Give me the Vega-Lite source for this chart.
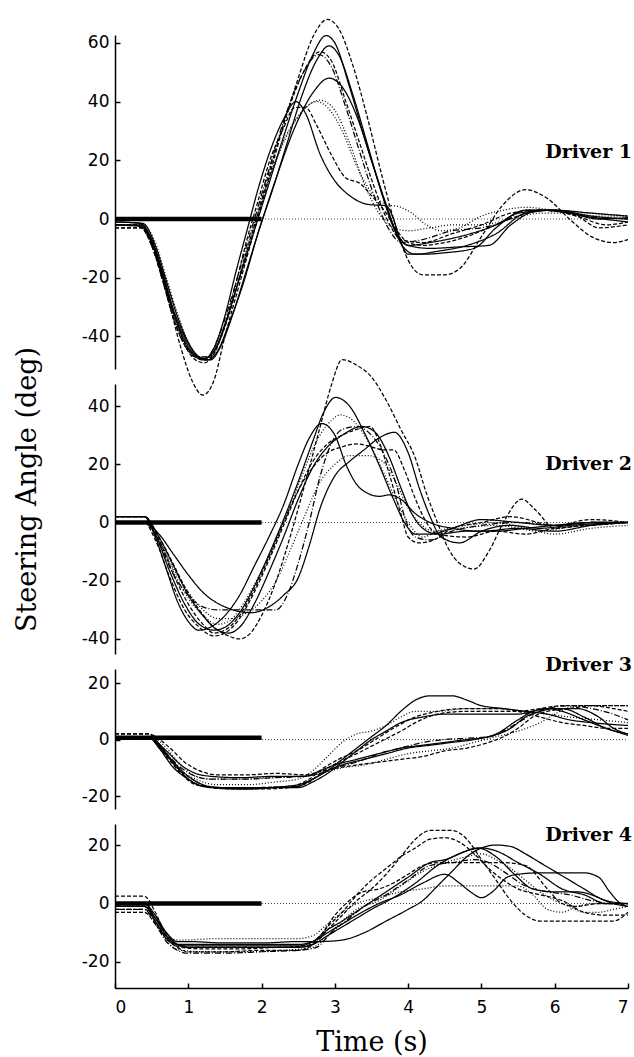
{
"$schema": "https://vega.github.io/schema/vega-lite/v6.json",
"background": "white",
"padding": {"left": 12, "top": 16, "right": 2, "bottom": 5},
"spacing": 15,
"bounds": "flush",
"config": {
  "view": {"stroke": null},
  "axis": {"domainColor": "black", "tickColor": "black", "labelColor": "black", "titleColor": "black", "labelFont": "DejaVu Sans", "labelFontSize": 17, "grid": false, "domainWidth": 1.5, "tickWidth": 1.5, "tickSize": -5}
},
"datasets": {
"cues": [{"d":1,"t0":0,"t1":2,"v":0},{"d":2,"t0":0,"t1":2,"v":0},{"d":3,"t0":0,"t1":2,"v":0.6},{"d":4,"t0":0,"t1":2,"v":0}],
"trials": [
{"d":1,"k":"a","t":0,"v":-2},{"d":1,"k":"a","t":0.35,"v":-2.5},{"d":1,"k":"a","t":0.5,"v":-8},{"d":1,"k":"a","t":0.65,"v":-20},{"d":1,"k":"a","t":0.8,"v":-32},{"d":1,"k":"a","t":0.95,"v":-41},{"d":1,"k":"a","t":1.1,"v":-46.5},{"d":1,"k":"a","t":1.22,"v":-47.5},{"d":1,"k":"a","t":1.35,"v":-45},{"d":1,"k":"a","t":1.5,"v":-36},{"d":1,"k":"a","t":1.7,"v":-20},{"d":1,"k":"a","t":1.9,"v":-4},{"d":1,"k":"a","t":2.1,"v":12},{"d":1,"k":"a","t":2.3,"v":28},{"d":1,"k":"a","t":2.5,"v":43},{"d":1,"k":"a","t":2.7,"v":56},{"d":1,"k":"a","t":2.88,"v":62.5},{"d":1,"k":"a","t":3.0,"v":60},{"d":1,"k":"a","t":3.2,"v":45},{"d":1,"k":"a","t":3.4,"v":28},{"d":1,"k":"a","t":3.6,"v":12},{"d":1,"k":"a","t":3.8,"v":-3},{"d":1,"k":"a","t":3.95,"v":-10},{"d":1,"k":"a","t":4.1,"v":-12},{"d":1,"k":"a","t":4.4,"v":-11},{"d":1,"k":"a","t":4.8,"v":-9},{"d":1,"k":"a","t":5.2,"v":-5},{"d":1,"k":"a","t":5.6,"v":2},{"d":1,"k":"a","t":6.0,"v":3},{"d":1,"k":"a","t":6.5,"v":1},{"d":1,"k":"a","t":7,"v":0},
{"d":1,"k":"b","t":0,"v":-2},{"d":1,"k":"b","t":0.35,"v":-2},{"d":1,"k":"b","t":0.5,"v":-7},{"d":1,"k":"b","t":0.65,"v":-18},{"d":1,"k":"b","t":0.8,"v":-31},{"d":1,"k":"b","t":0.95,"v":-40},{"d":1,"k":"b","t":1.1,"v":-46},{"d":1,"k":"b","t":1.25,"v":-48},{"d":1,"k":"b","t":1.4,"v":-45},{"d":1,"k":"b","t":1.55,"v":-36},{"d":1,"k":"b","t":1.75,"v":-22},{"d":1,"k":"b","t":1.95,"v":-5},{"d":1,"k":"b","t":2.15,"v":10},{"d":1,"k":"b","t":2.35,"v":26},{"d":1,"k":"b","t":2.55,"v":42},{"d":1,"k":"b","t":2.75,"v":54},{"d":1,"k":"b","t":2.92,"v":59},{"d":1,"k":"b","t":3.05,"v":56},{"d":1,"k":"b","t":3.25,"v":42},{"d":1,"k":"b","t":3.45,"v":25},{"d":1,"k":"b","t":3.65,"v":8},{"d":1,"k":"b","t":3.85,"v":-5},{"d":1,"k":"b","t":4.0,"v":-9},{"d":1,"k":"b","t":4.3,"v":-10},{"d":1,"k":"b","t":4.7,"v":-9.5},{"d":1,"k":"b","t":5.1,"v":-9},{"d":1,"k":"b","t":5.4,"v":-2},{"d":1,"k":"b","t":5.8,"v":3},{"d":1,"k":"b","t":6.2,"v":2},{"d":1,"k":"b","t":6.6,"v":0},{"d":1,"k":"b","t":7,"v":0.5},
{"d":1,"k":"c","t":0,"v":-3},{"d":1,"k":"c","t":0.35,"v":-3},{"d":1,"k":"c","t":0.5,"v":-9},{"d":1,"k":"c","t":0.7,"v":-25},{"d":1,"k":"c","t":0.9,"v":-44},{"d":1,"k":"c","t":1.05,"v":-55},{"d":1,"k":"c","t":1.2,"v":-60},{"d":1,"k":"c","t":1.35,"v":-55},{"d":1,"k":"c","t":1.5,"v":-40},{"d":1,"k":"c","t":1.7,"v":-22},{"d":1,"k":"c","t":1.9,"v":-4},{"d":1,"k":"c","t":2.1,"v":14},{"d":1,"k":"c","t":2.3,"v":32},{"d":1,"k":"c","t":2.5,"v":48},{"d":1,"k":"c","t":2.7,"v":62},{"d":1,"k":"c","t":2.9,"v":68},{"d":1,"k":"c","t":3.05,"v":65},{"d":1,"k":"c","t":3.25,"v":52},{"d":1,"k":"c","t":3.45,"v":34},{"d":1,"k":"c","t":3.65,"v":14},{"d":1,"k":"c","t":3.85,"v":-4},{"d":1,"k":"c","t":4.0,"v":-14},{"d":1,"k":"c","t":4.2,"v":-19},{"d":1,"k":"c","t":4.5,"v":-19},{"d":1,"k":"c","t":4.7,"v":-17},{"d":1,"k":"c","t":5.0,"v":-6},{"d":1,"k":"c","t":5.3,"v":5},{"d":1,"k":"c","t":5.6,"v":10},{"d":1,"k":"c","t":5.9,"v":7},{"d":1,"k":"c","t":6.2,"v":0},{"d":1,"k":"c","t":6.5,"v":-6},{"d":1,"k":"c","t":6.8,"v":-8},{"d":1,"k":"c","t":7,"v":-7},
{"d":1,"k":"d","t":0,"v":-1},{"d":1,"k":"d","t":0.38,"v":-1.5},{"d":1,"k":"d","t":0.55,"v":-9},{"d":1,"k":"d","t":0.7,"v":-21},{"d":1,"k":"d","t":0.85,"v":-33},{"d":1,"k":"d","t":1.0,"v":-42},{"d":1,"k":"d","t":1.15,"v":-47},{"d":1,"k":"d","t":1.3,"v":-48},{"d":1,"k":"d","t":1.45,"v":-43},{"d":1,"k":"d","t":1.6,"v":-33},{"d":1,"k":"d","t":1.8,"v":-17},{"d":1,"k":"d","t":2.0,"v":-1},{"d":1,"k":"d","t":2.2,"v":14},{"d":1,"k":"d","t":2.45,"v":31},{"d":1,"k":"d","t":2.7,"v":43},{"d":1,"k":"d","t":2.92,"v":48},{"d":1,"k":"d","t":3.1,"v":45},{"d":1,"k":"d","t":3.3,"v":35},{"d":1,"k":"d","t":3.5,"v":20},{"d":1,"k":"d","t":3.7,"v":5},{"d":1,"k":"d","t":3.85,"v":-5},{"d":1,"k":"d","t":4.0,"v":-9},{"d":1,"k":"d","t":4.3,"v":-8},{"d":1,"k":"d","t":4.7,"v":-6},{"d":1,"k":"d","t":5.2,"v":-2},{"d":1,"k":"d","t":5.6,"v":3},{"d":1,"k":"d","t":6.0,"v":3},{"d":1,"k":"d","t":6.4,"v":1},{"d":1,"k":"d","t":7,"v":-1},
{"d":1,"k":"e","t":0,"v":-2},{"d":1,"k":"e","t":0.35,"v":-2},{"d":1,"k":"e","t":0.5,"v":-8},{"d":1,"k":"e","t":0.65,"v":-19},{"d":1,"k":"e","t":0.8,"v":-32},{"d":1,"k":"e","t":0.95,"v":-42},{"d":1,"k":"e","t":1.1,"v":-47},{"d":1,"k":"e","t":1.25,"v":-48},{"d":1,"k":"e","t":1.4,"v":-43},{"d":1,"k":"e","t":1.55,"v":-33},{"d":1,"k":"e","t":1.75,"v":-15},{"d":1,"k":"e","t":1.95,"v":2},{"d":1,"k":"e","t":2.15,"v":20},{"d":1,"k":"e","t":2.35,"v":36},{"d":1,"k":"e","t":2.55,"v":49},{"d":1,"k":"e","t":2.8,"v":57},{"d":1,"k":"e","t":2.95,"v":54},{"d":1,"k":"e","t":3.15,"v":40},{"d":1,"k":"e","t":3.35,"v":25},{"d":1,"k":"e","t":3.55,"v":10},{"d":1,"k":"e","t":3.75,"v":-2},{"d":1,"k":"e","t":3.9,"v":-7},{"d":1,"k":"e","t":4.2,"v":-8},{"d":1,"k":"e","t":4.6,"v":-5},{"d":1,"k":"e","t":5.0,"v":-2},{"d":1,"k":"e","t":5.4,"v":2},{"d":1,"k":"e","t":5.8,"v":3},{"d":1,"k":"e","t":6.3,"v":1},{"d":1,"k":"e","t":6.6,"v":-3},{"d":1,"k":"e","t":7,"v":-2},
{"d":1,"k":"f","t":0,"v":-2},{"d":1,"k":"f","t":0.35,"v":-2},{"d":1,"k":"f","t":0.5,"v":-8},{"d":1,"k":"f","t":0.65,"v":-20},{"d":1,"k":"f","t":0.8,"v":-33},{"d":1,"k":"f","t":0.95,"v":-42},{"d":1,"k":"f","t":1.1,"v":-47},{"d":1,"k":"f","t":1.25,"v":-48},{"d":1,"k":"f","t":1.4,"v":-42},{"d":1,"k":"f","t":1.6,"v":-28},{"d":1,"k":"f","t":1.8,"v":-12},{"d":1,"k":"f","t":2.0,"v":5},{"d":1,"k":"f","t":2.2,"v":20},{"d":1,"k":"f","t":2.45,"v":33},{"d":1,"k":"f","t":2.65,"v":39},{"d":1,"k":"f","t":2.8,"v":40.5},{"d":1,"k":"f","t":3.0,"v":37},{"d":1,"k":"f","t":3.2,"v":26},{"d":1,"k":"f","t":3.4,"v":12},{"d":1,"k":"f","t":3.6,"v":2},{"d":1,"k":"f","t":3.8,"v":-3},{"d":1,"k":"f","t":4.0,"v":-4},{"d":1,"k":"f","t":4.3,"v":-3},{"d":1,"k":"f","t":4.6,"v":-2},{"d":1,"k":"f","t":5.0,"v":-2},{"d":1,"k":"f","t":5.4,"v":0},{"d":1,"k":"f","t":5.8,"v":2},{"d":1,"k":"f","t":6.2,"v":2},{"d":1,"k":"f","t":6.6,"v":1},{"d":1,"k":"f","t":7,"v":1},
{"d":1,"k":"g","t":0,"v":-1},{"d":1,"k":"g","t":0.35,"v":-1.5},{"d":1,"k":"g","t":0.5,"v":-7},{"d":1,"k":"g","t":0.65,"v":-19},{"d":1,"k":"g","t":0.8,"v":-32},{"d":1,"k":"g","t":0.95,"v":-42},{"d":1,"k":"g","t":1.1,"v":-47},{"d":1,"k":"g","t":1.2,"v":-48},{"d":1,"k":"g","t":1.35,"v":-44},{"d":1,"k":"g","t":1.5,"v":-33},{"d":1,"k":"g","t":1.65,"v":-18},{"d":1,"k":"g","t":1.8,"v":-4},{"d":1,"k":"g","t":1.95,"v":10},{"d":1,"k":"g","t":2.1,"v":22},{"d":1,"k":"g","t":2.3,"v":34},{"d":1,"k":"g","t":2.47,"v":40},{"d":1,"k":"g","t":2.6,"v":36},{"d":1,"k":"g","t":2.8,"v":22},{"d":1,"k":"g","t":3.0,"v":13},{"d":1,"k":"g","t":3.2,"v":8},{"d":1,"k":"g","t":3.45,"v":5},{"d":1,"k":"g","t":3.7,"v":4.5},{"d":1,"k":"g","t":3.8,"v":0},{"d":1,"k":"g","t":3.9,"v":-8},{"d":1,"k":"g","t":4.0,"v":-12},{"d":1,"k":"g","t":4.2,"v":-12},{"d":1,"k":"g","t":4.5,"v":-11.5},{"d":1,"k":"g","t":4.9,"v":-10},{"d":1,"k":"g","t":5.2,"v":-3},{"d":1,"k":"g","t":5.5,"v":2},{"d":1,"k":"g","t":6.0,"v":3},{"d":1,"k":"g","t":6.5,"v":2},{"d":1,"k":"g","t":7,"v":1},
{"d":1,"k":"h","t":0,"v":-3},{"d":1,"k":"h","t":0.35,"v":-3},{"d":1,"k":"h","t":0.5,"v":-9},{"d":1,"k":"h","t":0.65,"v":-21},{"d":1,"k":"h","t":0.8,"v":-34},{"d":1,"k":"h","t":0.95,"v":-43},{"d":1,"k":"h","t":1.1,"v":-48},{"d":1,"k":"h","t":1.22,"v":-49},{"d":1,"k":"h","t":1.35,"v":-46},{"d":1,"k":"h","t":1.5,"v":-36},{"d":1,"k":"h","t":1.65,"v":-22},{"d":1,"k":"h","t":1.8,"v":-7},{"d":1,"k":"h","t":1.95,"v":6},{"d":1,"k":"h","t":2.1,"v":19},{"d":1,"k":"h","t":2.3,"v":31},{"d":1,"k":"h","t":2.45,"v":38},{"d":1,"k":"h","t":2.6,"v":38},{"d":1,"k":"h","t":2.75,"v":32},{"d":1,"k":"h","t":2.95,"v":22},{"d":1,"k":"h","t":3.15,"v":14},{"d":1,"k":"h","t":3.35,"v":12},{"d":1,"k":"h","t":3.5,"v":8},{"d":1,"k":"h","t":3.7,"v":2},{"d":1,"k":"h","t":3.85,"v":-4},{"d":1,"k":"h","t":4.0,"v":-8},{"d":1,"k":"h","t":4.2,"v":-9},{"d":1,"k":"h","t":4.5,"v":-8},{"d":1,"k":"h","t":4.8,"v":-6},{"d":1,"k":"h","t":5.1,"v":-3},{"d":1,"k":"h","t":5.5,"v":1},{"d":1,"k":"h","t":5.9,"v":3},{"d":1,"k":"h","t":6.3,"v":1},{"d":1,"k":"h","t":6.7,"v":-2},{"d":1,"k":"h","t":7,"v":-1},
{"d":1,"k":"i","t":0,"v":-2},{"d":1,"k":"i","t":0.38,"v":-2},{"d":1,"k":"i","t":0.55,"v":-8},{"d":1,"k":"i","t":0.7,"v":-20},{"d":1,"k":"i","t":0.85,"v":-32},{"d":1,"k":"i","t":1.0,"v":-42},{"d":1,"k":"i","t":1.15,"v":-47},{"d":1,"k":"i","t":1.3,"v":-47},{"d":1,"k":"i","t":1.45,"v":-40},{"d":1,"k":"i","t":1.65,"v":-24},{"d":1,"k":"i","t":1.85,"v":-6},{"d":1,"k":"i","t":2.05,"v":10},{"d":1,"k":"i","t":2.25,"v":24},{"d":1,"k":"i","t":2.5,"v":35},{"d":1,"k":"i","t":2.75,"v":40},{"d":1,"k":"i","t":2.9,"v":38},{"d":1,"k":"i","t":3.1,"v":30},{"d":1,"k":"i","t":3.3,"v":18},{"d":1,"k":"i","t":3.5,"v":9},{"d":1,"k":"i","t":3.7,"v":5},{"d":1,"k":"i","t":3.9,"v":4},{"d":1,"k":"i","t":4.05,"v":2},{"d":1,"k":"i","t":4.25,"v":-2},{"d":1,"k":"i","t":4.45,"v":-4},{"d":1,"k":"i","t":4.7,"v":-3},{"d":1,"k":"i","t":5.0,"v":1},{"d":1,"k":"i","t":5.3,"v":3},{"d":1,"k":"i","t":5.6,"v":4},{"d":1,"k":"i","t":6.0,"v":3},{"d":1,"k":"i","t":6.5,"v":2},{"d":1,"k":"i","t":7,"v":1},
{"d":1,"k":"j","t":0,"v":-2},{"d":1,"k":"j","t":0.35,"v":-2.5},{"d":1,"k":"j","t":0.5,"v":-9},{"d":1,"k":"j","t":0.65,"v":-21},{"d":1,"k":"j","t":0.8,"v":-34},{"d":1,"k":"j","t":0.95,"v":-43},{"d":1,"k":"j","t":1.1,"v":-47},{"d":1,"k":"j","t":1.25,"v":-47},{"d":1,"k":"j","t":1.4,"v":-41},{"d":1,"k":"j","t":1.55,"v":-30},{"d":1,"k":"j","t":1.75,"v":-13},{"d":1,"k":"j","t":1.95,"v":4},{"d":1,"k":"j","t":2.15,"v":21},{"d":1,"k":"j","t":2.35,"v":37},{"d":1,"k":"j","t":2.55,"v":49},{"d":1,"k":"j","t":2.78,"v":56},{"d":1,"k":"j","t":2.95,"v":52},{"d":1,"k":"j","t":3.15,"v":38},{"d":1,"k":"j","t":3.35,"v":22},{"d":1,"k":"j","t":3.55,"v":7},{"d":1,"k":"j","t":3.75,"v":-4},{"d":1,"k":"j","t":3.9,"v":-8},{"d":1,"k":"j","t":4.2,"v":-7},{"d":1,"k":"j","t":4.6,"v":-4},{"d":1,"k":"j","t":5.0,"v":-3},{"d":1,"k":"j","t":5.3,"v":-1},{"d":1,"k":"j","t":5.6,"v":3},{"d":1,"k":"j","t":6.0,"v":3},{"d":1,"k":"j","t":6.4,"v":1},{"d":1,"k":"j","t":7,"v":0},
{"d":2,"k":"a","t":0,"v":2},{"d":2,"k":"a","t":0.4,"v":2},{"d":2,"k":"a","t":0.55,"v":-4},{"d":2,"k":"a","t":0.75,"v":-17},{"d":2,"k":"a","t":0.95,"v":-28},{"d":2,"k":"a","t":1.15,"v":-35},{"d":2,"k":"a","t":1.35,"v":-37},{"d":2,"k":"a","t":1.5,"v":-36},{"d":2,"k":"a","t":1.7,"v":-31},{"d":2,"k":"a","t":1.9,"v":-22},{"d":2,"k":"a","t":2.1,"v":-11},{"d":2,"k":"a","t":2.3,"v":1},{"d":2,"k":"a","t":2.5,"v":14},{"d":2,"k":"a","t":2.7,"v":28},{"d":2,"k":"a","t":2.85,"v":38},{"d":2,"k":"a","t":3.01,"v":43},{"d":2,"k":"a","t":3.2,"v":40},{"d":2,"k":"a","t":3.4,"v":31},{"d":2,"k":"a","t":3.6,"v":20},{"d":2,"k":"a","t":3.8,"v":8},{"d":2,"k":"a","t":3.95,"v":0},{"d":2,"k":"a","t":4.1,"v":-4},{"d":2,"k":"a","t":4.3,"v":-4},{"d":2,"k":"a","t":4.6,"v":-2},{"d":2,"k":"a","t":5.0,"v":1},{"d":2,"k":"a","t":5.5,"v":0},{"d":2,"k":"a","t":6.0,"v":-1},{"d":2,"k":"a","t":6.5,"v":0},{"d":2,"k":"a","t":7,"v":0},
{"d":2,"k":"b","t":0,"v":2},{"d":2,"k":"b","t":0.4,"v":2},{"d":2,"k":"b","t":0.55,"v":-5},{"d":2,"k":"b","t":0.7,"v":-16},{"d":2,"k":"b","t":0.85,"v":-27},{"d":2,"k":"b","t":1.0,"v":-34},{"d":2,"k":"b","t":1.14,"v":-37},{"d":2,"k":"b","t":1.3,"v":-36},{"d":2,"k":"b","t":1.5,"v":-32},{"d":2,"k":"b","t":1.7,"v":-25},{"d":2,"k":"b","t":1.9,"v":-15},{"d":2,"k":"b","t":2.1,"v":-5},{"d":2,"k":"b","t":2.3,"v":6},{"d":2,"k":"b","t":2.5,"v":20},{"d":2,"k":"b","t":2.65,"v":29},{"d":2,"k":"b","t":2.82,"v":34},{"d":2,"k":"b","t":3.0,"v":30},{"d":2,"k":"b","t":3.15,"v":20},{"d":2,"k":"b","t":3.3,"v":13},{"d":2,"k":"b","t":3.45,"v":10},{"d":2,"k":"b","t":3.6,"v":9},{"d":2,"k":"b","t":3.75,"v":9.5},{"d":2,"k":"b","t":3.9,"v":8},{"d":2,"k":"b","t":4.1,"v":3},{"d":2,"k":"b","t":4.3,"v":0},{"d":2,"k":"b","t":4.6,"v":-2},{"d":2,"k":"b","t":5.0,"v":-3},{"d":2,"k":"b","t":5.5,"v":-2},{"d":2,"k":"b","t":6.0,"v":-3},{"d":2,"k":"b","t":6.5,"v":-1},{"d":2,"k":"b","t":7,"v":0},
{"d":2,"k":"c","t":0,"v":2},{"d":2,"k":"c","t":0.4,"v":2},{"d":2,"k":"c","t":0.55,"v":-3},{"d":2,"k":"c","t":0.75,"v":-12},{"d":2,"k":"c","t":0.95,"v":-22},{"d":2,"k":"c","t":1.15,"v":-30},{"d":2,"k":"c","t":1.35,"v":-36},{"d":2,"k":"c","t":1.55,"v":-39},{"d":2,"k":"c","t":1.7,"v":-40},{"d":2,"k":"c","t":1.85,"v":-38},{"d":2,"k":"c","t":2.0,"v":-32},{"d":2,"k":"c","t":2.2,"v":-20},{"d":2,"k":"c","t":2.4,"v":-4},{"d":2,"k":"c","t":2.6,"v":14},{"d":2,"k":"c","t":2.8,"v":33},{"d":2,"k":"c","t":2.95,"v":47},{"d":2,"k":"c","t":3.1,"v":56},{"d":2,"k":"c","t":3.3,"v":54},{"d":2,"k":"c","t":3.5,"v":50},{"d":2,"k":"c","t":3.7,"v":42},{"d":2,"k":"c","t":3.9,"v":32},{"d":2,"k":"c","t":4.1,"v":22},{"d":2,"k":"c","t":4.25,"v":10},{"d":2,"k":"c","t":4.4,"v":0},{"d":2,"k":"c","t":4.55,"v":-9},{"d":2,"k":"c","t":4.7,"v":-14},{"d":2,"k":"c","t":4.9,"v":-16},{"d":2,"k":"c","t":5.1,"v":-10},{"d":2,"k":"c","t":5.3,"v":0},{"d":2,"k":"c","t":5.55,"v":8},{"d":2,"k":"c","t":5.75,"v":4},{"d":2,"k":"c","t":6.0,"v":-2},{"d":2,"k":"c","t":6.4,"v":-1},{"d":2,"k":"c","t":7,"v":0},
{"d":2,"k":"d","t":0,"v":2},{"d":2,"k":"d","t":0.4,"v":2},{"d":2,"k":"d","t":0.6,"v":-5},{"d":2,"k":"d","t":0.8,"v":-15},{"d":2,"k":"d","t":1.0,"v":-25},{"d":2,"k":"d","t":1.2,"v":-32},{"d":2,"k":"d","t":1.4,"v":-37},{"d":2,"k":"d","t":1.55,"v":-38},{"d":2,"k":"d","t":1.7,"v":-36},{"d":2,"k":"d","t":1.9,"v":-28},{"d":2,"k":"d","t":2.1,"v":-17},{"d":2,"k":"d","t":2.3,"v":-5},{"d":2,"k":"d","t":2.5,"v":8},{"d":2,"k":"d","t":2.7,"v":19},{"d":2,"k":"d","t":2.9,"v":26},{"d":2,"k":"d","t":3.1,"v":30},{"d":2,"k":"d","t":3.37,"v":33},{"d":2,"k":"d","t":3.55,"v":31},{"d":2,"k":"d","t":3.75,"v":22},{"d":2,"k":"d","t":3.9,"v":12},{"d":2,"k":"d","t":4.05,"v":3},{"d":2,"k":"d","t":4.2,"v":-2},{"d":2,"k":"d","t":4.4,"v":-4},{"d":2,"k":"d","t":4.8,"v":-3},{"d":2,"k":"d","t":5.2,"v":-3},{"d":2,"k":"d","t":5.6,"v":-2},{"d":2,"k":"d","t":6.0,"v":-1},{"d":2,"k":"d","t":6.5,"v":0},{"d":2,"k":"d","t":7,"v":0},
{"d":2,"k":"e","t":0,"v":0},{"d":2,"k":"e","t":0.4,"v":0},{"d":2,"k":"e","t":0.55,"v":-6},{"d":2,"k":"e","t":0.75,"v":-19},{"d":2,"k":"e","t":0.95,"v":-30},{"d":2,"k":"e","t":1.15,"v":-36},{"d":2,"k":"e","t":1.35,"v":-39},{"d":2,"k":"e","t":1.5,"v":-38},{"d":2,"k":"e","t":1.7,"v":-33},{"d":2,"k":"e","t":1.9,"v":-24},{"d":2,"k":"e","t":2.1,"v":-13},{"d":2,"k":"e","t":2.3,"v":-1},{"d":2,"k":"e","t":2.5,"v":11},{"d":2,"k":"e","t":2.7,"v":21},{"d":2,"k":"e","t":2.9,"v":27},{"d":2,"k":"e","t":3.1,"v":30},{"d":2,"k":"e","t":3.3,"v":32},{"d":2,"k":"e","t":3.48,"v":33},{"d":2,"k":"e","t":3.6,"v":28},{"d":2,"k":"e","t":3.75,"v":16},{"d":2,"k":"e","t":3.9,"v":3},{"d":2,"k":"e","t":4.0,"v":-5},{"d":2,"k":"e","t":4.15,"v":-7},{"d":2,"k":"e","t":4.35,"v":-6},{"d":2,"k":"e","t":4.6,"v":-2},{"d":2,"k":"e","t":5.0,"v":0},{"d":2,"k":"e","t":5.4,"v":2},{"d":2,"k":"e","t":6.0,"v":-1},{"d":2,"k":"e","t":6.5,"v":1},{"d":2,"k":"e","t":7,"v":0},
{"d":2,"k":"f","t":0,"v":0},{"d":2,"k":"f","t":0.4,"v":0},{"d":2,"k":"f","t":0.6,"v":-6},{"d":2,"k":"f","t":0.8,"v":-17},{"d":2,"k":"f","t":1.0,"v":-26},{"d":2,"k":"f","t":1.2,"v":-32},{"d":2,"k":"f","t":1.4,"v":-35},{"d":2,"k":"f","t":1.55,"v":-34},{"d":2,"k":"f","t":1.75,"v":-28},{"d":2,"k":"f","t":1.95,"v":-19},{"d":2,"k":"f","t":2.15,"v":-9},{"d":2,"k":"f","t":2.35,"v":3},{"d":2,"k":"f","t":2.55,"v":16},{"d":2,"k":"f","t":2.75,"v":28},{"d":2,"k":"f","t":2.95,"v":35},{"d":2,"k":"f","t":3.07,"v":37},{"d":2,"k":"f","t":3.25,"v":35},{"d":2,"k":"f","t":3.45,"v":28},{"d":2,"k":"f","t":3.65,"v":18},{"d":2,"k":"f","t":3.85,"v":7},{"d":2,"k":"f","t":4.0,"v":0},{"d":2,"k":"f","t":4.2,"v":-5},{"d":2,"k":"f","t":4.4,"v":-3},{"d":2,"k":"f","t":4.8,"v":-1},{"d":2,"k":"f","t":5.2,"v":0},{"d":2,"k":"f","t":5.6,"v":-2},{"d":2,"k":"f","t":6.0,"v":-4},{"d":2,"k":"f","t":6.5,"v":-2},{"d":2,"k":"f","t":7,"v":-1},
{"d":2,"k":"g","t":0,"v":0},{"d":2,"k":"g","t":0.4,"v":0},{"d":2,"k":"g","t":0.6,"v":-4},{"d":2,"k":"g","t":0.8,"v":-11},{"d":2,"k":"g","t":1.0,"v":-18},{"d":2,"k":"g","t":1.2,"v":-24},{"d":2,"k":"g","t":1.5,"v":-29},{"d":2,"k":"g","t":1.86,"v":-31},{"d":2,"k":"g","t":2.1,"v":-29},{"d":2,"k":"g","t":2.3,"v":-25},{"d":2,"k":"g","t":2.5,"v":-19},{"d":2,"k":"g","t":2.65,"v":-8},{"d":2,"k":"g","t":2.8,"v":5},{"d":2,"k":"g","t":3.0,"v":16},{"d":2,"k":"g","t":3.2,"v":21},{"d":2,"k":"g","t":3.4,"v":25},{"d":2,"k":"g","t":3.6,"v":29},{"d":2,"k":"g","t":3.81,"v":31},{"d":2,"k":"g","t":4.0,"v":24},{"d":2,"k":"g","t":4.15,"v":12},{"d":2,"k":"g","t":4.3,"v":2},{"d":2,"k":"g","t":4.45,"v":-5},{"d":2,"k":"g","t":4.7,"v":-7},{"d":2,"k":"g","t":5.0,"v":-3},{"d":2,"k":"g","t":5.4,"v":-1},{"d":2,"k":"g","t":5.8,"v":-2},{"d":2,"k":"g","t":6.2,"v":-1},{"d":2,"k":"g","t":7,"v":0},
{"d":2,"k":"h","t":0,"v":2},{"d":2,"k":"h","t":0.4,"v":2},{"d":2,"k":"h","t":0.6,"v":-6},{"d":2,"k":"h","t":0.8,"v":-18},{"d":2,"k":"h","t":1.0,"v":-28},{"d":2,"k":"h","t":1.2,"v":-35},{"d":2,"k":"h","t":1.35,"v":-38},{"d":2,"k":"h","t":1.5,"v":-37},{"d":2,"k":"h","t":1.7,"v":-32},{"d":2,"k":"h","t":1.9,"v":-23},{"d":2,"k":"h","t":2.1,"v":-12},{"d":2,"k":"h","t":2.3,"v":0},{"d":2,"k":"h","t":2.5,"v":11},{"d":2,"k":"h","t":2.7,"v":19},{"d":2,"k":"h","t":2.9,"v":24},{"d":2,"k":"h","t":3.1,"v":26},{"d":2,"k":"h","t":3.3,"v":27},{"d":2,"k":"h","t":3.5,"v":26},{"d":2,"k":"h","t":3.65,"v":25},{"d":2,"k":"h","t":3.8,"v":25},{"d":2,"k":"h","t":3.95,"v":18},{"d":2,"k":"h","t":4.1,"v":8},{"d":2,"k":"h","t":4.25,"v":0},{"d":2,"k":"h","t":4.4,"v":-4},{"d":2,"k":"h","t":4.8,"v":-5},{"d":2,"k":"h","t":5.2,"v":-3},{"d":2,"k":"h","t":5.6,"v":-4},{"d":2,"k":"h","t":6.0,"v":-2},{"d":2,"k":"h","t":6.5,"v":-1},{"d":2,"k":"h","t":7,"v":0},
{"d":2,"k":"i","t":0,"v":2},{"d":2,"k":"i","t":0.4,"v":2},{"d":2,"k":"i","t":0.6,"v":-6},{"d":2,"k":"i","t":0.8,"v":-16},{"d":2,"k":"i","t":1.0,"v":-24},{"d":2,"k":"i","t":1.2,"v":-30},{"d":2,"k":"i","t":1.4,"v":-33},{"d":2,"k":"i","t":1.6,"v":-33},{"d":2,"k":"i","t":1.8,"v":-31},{"d":2,"k":"i","t":2.0,"v":-27},{"d":2,"k":"i","t":2.2,"v":-20},{"d":2,"k":"i","t":2.4,"v":-9},{"d":2,"k":"i","t":2.6,"v":3},{"d":2,"k":"i","t":2.8,"v":14},{"d":2,"k":"i","t":3.0,"v":20},{"d":2,"k":"i","t":3.2,"v":23},{"d":2,"k":"i","t":3.45,"v":23},{"d":2,"k":"i","t":3.65,"v":21},{"d":2,"k":"i","t":3.85,"v":13},{"d":2,"k":"i","t":4.0,"v":5},{"d":2,"k":"i","t":4.15,"v":0},{"d":2,"k":"i","t":4.35,"v":-3},{"d":2,"k":"i","t":4.7,"v":-2},{"d":2,"k":"i","t":5.2,"v":-1},{"d":2,"k":"i","t":5.8,"v":-3},{"d":2,"k":"i","t":6.3,"v":-1},{"d":2,"k":"i","t":7,"v":0},
{"d":2,"k":"j","t":0,"v":0},{"d":2,"k":"j","t":0.4,"v":0},{"d":2,"k":"j","t":0.6,"v":-7},{"d":2,"k":"j","t":0.8,"v":-18},{"d":2,"k":"j","t":1.0,"v":-25},{"d":2,"k":"j","t":1.2,"v":-29},{"d":2,"k":"j","t":1.4,"v":-30},{"d":2,"k":"j","t":1.6,"v":-30},{"d":2,"k":"j","t":1.9,"v":-30},{"d":2,"k":"j","t":2.2,"v":-30},{"d":2,"k":"j","t":2.35,"v":-25},{"d":2,"k":"j","t":2.5,"v":-14},{"d":2,"k":"j","t":2.65,"v":0},{"d":2,"k":"j","t":2.8,"v":16},{"d":2,"k":"j","t":2.95,"v":27},{"d":2,"k":"j","t":3.1,"v":32},{"d":2,"k":"j","t":3.3,"v":33},{"d":2,"k":"j","t":3.5,"v":30},{"d":2,"k":"j","t":3.7,"v":22},{"d":2,"k":"j","t":3.85,"v":12},{"d":2,"k":"j","t":3.95,"v":2},{"d":2,"k":"j","t":4.1,"v":-5},{"d":2,"k":"j","t":4.3,"v":-6},{"d":2,"k":"j","t":4.6,"v":-3},{"d":2,"k":"j","t":5.0,"v":-1},{"d":2,"k":"j","t":5.5,"v":0},{"d":2,"k":"j","t":6.0,"v":-1},{"d":2,"k":"j","t":6.5,"v":0},{"d":2,"k":"j","t":7,"v":0},
{"d":3,"k":"a","t":0,"v":1},{"d":3,"k":"a","t":0.45,"v":1},{"d":3,"k":"a","t":0.6,"v":-2},{"d":3,"k":"a","t":0.8,"v":-8},{"d":3,"k":"a","t":1.0,"v":-13},{"d":3,"k":"a","t":1.2,"v":-16},{"d":3,"k":"a","t":1.4,"v":-17},{"d":3,"k":"a","t":1.8,"v":-17.5},{"d":3,"k":"a","t":2.2,"v":-17},{"d":3,"k":"a","t":2.5,"v":-16.5},{"d":3,"k":"a","t":2.7,"v":-14},{"d":3,"k":"a","t":2.9,"v":-11},{"d":3,"k":"a","t":3.1,"v":-7},{"d":3,"k":"a","t":3.3,"v":-3},{"d":3,"k":"a","t":3.5,"v":1},{"d":3,"k":"a","t":3.7,"v":5},{"d":3,"k":"a","t":3.9,"v":10},{"d":3,"k":"a","t":4.1,"v":14},{"d":3,"k":"a","t":4.3,"v":15.5},{"d":3,"k":"a","t":4.6,"v":15.5},{"d":3,"k":"a","t":4.8,"v":14},{"d":3,"k":"a","t":5.0,"v":12},{"d":3,"k":"a","t":5.3,"v":11},{"d":3,"k":"a","t":5.6,"v":10},{"d":3,"k":"a","t":5.9,"v":9},{"d":3,"k":"a","t":6.2,"v":7},{"d":3,"k":"a","t":6.5,"v":6},{"d":3,"k":"a","t":7,"v":5},
{"d":3,"k":"b","t":0,"v":1},{"d":3,"k":"b","t":0.45,"v":1},{"d":3,"k":"b","t":0.6,"v":-3},{"d":3,"k":"b","t":0.8,"v":-10},{"d":3,"k":"b","t":1.0,"v":-14},{"d":3,"k":"b","t":1.2,"v":-16.5},{"d":3,"k":"b","t":1.5,"v":-17},{"d":3,"k":"b","t":2.0,"v":-17},{"d":3,"k":"b","t":2.5,"v":-17},{"d":3,"k":"b","t":2.7,"v":-15},{"d":3,"k":"b","t":2.9,"v":-12},{"d":3,"k":"b","t":3.1,"v":-8},{"d":3,"k":"b","t":3.3,"v":-4},{"d":3,"k":"b","t":3.5,"v":0},{"d":3,"k":"b","t":3.7,"v":3},{"d":3,"k":"b","t":3.9,"v":6},{"d":3,"k":"b","t":4.2,"v":8},{"d":3,"k":"b","t":4.5,"v":9},{"d":3,"k":"b","t":5.0,"v":9},{"d":3,"k":"b","t":5.5,"v":9},{"d":3,"k":"b","t":5.7,"v":10},{"d":3,"k":"b","t":5.9,"v":11},{"d":3,"k":"b","t":6.1,"v":11},{"d":3,"k":"b","t":6.4,"v":8},{"d":3,"k":"b","t":6.7,"v":4},{"d":3,"k":"b","t":7,"v":2},
{"d":3,"k":"c","t":0,"v":2},{"d":3,"k":"c","t":0.45,"v":2},{"d":3,"k":"c","t":0.65,"v":-3},{"d":3,"k":"c","t":0.85,"v":-10},{"d":3,"k":"c","t":1.05,"v":-14},{"d":3,"k":"c","t":1.3,"v":-17},{"d":3,"k":"c","t":1.6,"v":-17.5},{"d":3,"k":"c","t":2.0,"v":-17.5},{"d":3,"k":"c","t":2.4,"v":-17},{"d":3,"k":"c","t":2.65,"v":-15},{"d":3,"k":"c","t":2.85,"v":-11},{"d":3,"k":"c","t":3.05,"v":-8},{"d":3,"k":"c","t":3.3,"v":-5},{"d":3,"k":"c","t":3.6,"v":-1},{"d":3,"k":"c","t":3.9,"v":3},{"d":3,"k":"c","t":4.1,"v":6},{"d":3,"k":"c","t":4.4,"v":9},{"d":3,"k":"c","t":4.8,"v":10},{"d":3,"k":"c","t":5.2,"v":10},{"d":3,"k":"c","t":5.5,"v":10},{"d":3,"k":"c","t":5.8,"v":11},{"d":3,"k":"c","t":6.1,"v":12},{"d":3,"k":"c","t":6.4,"v":12},{"d":3,"k":"c","t":6.7,"v":12},{"d":3,"k":"c","t":7,"v":12},
{"d":3,"k":"d","t":0,"v":1},{"d":3,"k":"d","t":0.45,"v":1},{"d":3,"k":"d","t":0.7,"v":-4},{"d":3,"k":"d","t":0.9,"v":-9},{"d":3,"k":"d","t":1.1,"v":-12},{"d":3,"k":"d","t":1.3,"v":-13},{"d":3,"k":"d","t":1.7,"v":-13.5},{"d":3,"k":"d","t":2.2,"v":-13},{"d":3,"k":"d","t":2.6,"v":-13},{"d":3,"k":"d","t":2.8,"v":-11},{"d":3,"k":"d","t":3.0,"v":-9},{"d":3,"k":"d","t":3.3,"v":-7},{"d":3,"k":"d","t":3.6,"v":-5},{"d":3,"k":"d","t":3.9,"v":-3},{"d":3,"k":"d","t":4.2,"v":-2},{"d":3,"k":"d","t":4.5,"v":-1},{"d":3,"k":"d","t":4.8,"v":0},{"d":3,"k":"d","t":5.1,"v":1},{"d":3,"k":"d","t":5.4,"v":4},{"d":3,"k":"d","t":5.6,"v":8},{"d":3,"k":"d","t":5.8,"v":10},{"d":3,"k":"d","t":6.0,"v":11},{"d":3,"k":"d","t":6.3,"v":11},{"d":3,"k":"d","t":6.6,"v":8},{"d":3,"k":"d","t":6.8,"v":4},{"d":3,"k":"d","t":7,"v":2},
{"d":3,"k":"e","t":0,"v":2},{"d":3,"k":"e","t":0.45,"v":2},{"d":3,"k":"e","t":0.75,"v":-3},{"d":3,"k":"e","t":0.95,"v":-8},{"d":3,"k":"e","t":1.15,"v":-11},{"d":3,"k":"e","t":1.4,"v":-12.5},{"d":3,"k":"e","t":1.8,"v":-12.5},{"d":3,"k":"e","t":2.2,"v":-12},{"d":3,"k":"e","t":2.6,"v":-12.5},{"d":3,"k":"e","t":2.85,"v":-11},{"d":3,"k":"e","t":3.05,"v":-10},{"d":3,"k":"e","t":3.3,"v":-9},{"d":3,"k":"e","t":3.6,"v":-8},{"d":3,"k":"e","t":3.9,"v":-7},{"d":3,"k":"e","t":4.2,"v":-6},{"d":3,"k":"e","t":4.5,"v":-4},{"d":3,"k":"e","t":4.8,"v":-3},{"d":3,"k":"e","t":5.1,"v":-1},{"d":3,"k":"e","t":5.3,"v":1},{"d":3,"k":"e","t":5.5,"v":4},{"d":3,"k":"e","t":5.7,"v":8},{"d":3,"k":"e","t":5.9,"v":10},{"d":3,"k":"e","t":6.2,"v":11},{"d":3,"k":"e","t":6.5,"v":12},{"d":3,"k":"e","t":6.8,"v":11},{"d":3,"k":"e","t":7,"v":10},
{"d":3,"k":"f","t":0,"v":1},{"d":3,"k":"f","t":0.45,"v":1},{"d":3,"k":"f","t":0.7,"v":-5},{"d":3,"k":"f","t":0.9,"v":-11},{"d":3,"k":"f","t":1.1,"v":-14},{"d":3,"k":"f","t":1.4,"v":-16},{"d":3,"k":"f","t":1.8,"v":-16},{"d":3,"k":"f","t":2.2,"v":-15},{"d":3,"k":"f","t":2.5,"v":-14},{"d":3,"k":"f","t":2.7,"v":-11},{"d":3,"k":"f","t":2.9,"v":-6},{"d":3,"k":"f","t":3.1,"v":-1},{"d":3,"k":"f","t":3.3,"v":2},{"d":3,"k":"f","t":3.5,"v":3},{"d":3,"k":"f","t":3.7,"v":5},{"d":3,"k":"f","t":3.9,"v":8},{"d":3,"k":"f","t":4.1,"v":10},{"d":3,"k":"f","t":4.4,"v":10},{"d":3,"k":"f","t":4.8,"v":11},{"d":3,"k":"f","t":5.2,"v":11},{"d":3,"k":"f","t":5.6,"v":10},{"d":3,"k":"f","t":5.9,"v":9},{"d":3,"k":"f","t":6.2,"v":8},{"d":3,"k":"f","t":6.6,"v":7},{"d":3,"k":"f","t":7,"v":6},
{"d":3,"k":"g","t":0,"v":1},{"d":3,"k":"g","t":0.45,"v":1},{"d":3,"k":"g","t":0.65,"v":-4},{"d":3,"k":"g","t":0.85,"v":-10},{"d":3,"k":"g","t":1.05,"v":-15},{"d":3,"k":"g","t":1.3,"v":-17},{"d":3,"k":"g","t":1.7,"v":-17.5},{"d":3,"k":"g","t":2.1,"v":-17},{"d":3,"k":"g","t":2.5,"v":-16},{"d":3,"k":"g","t":2.7,"v":-14},{"d":3,"k":"g","t":2.9,"v":-11},{"d":3,"k":"g","t":3.1,"v":-9},{"d":3,"k":"g","t":3.4,"v":-7},{"d":3,"k":"g","t":3.7,"v":-5},{"d":3,"k":"g","t":4.0,"v":-3},{"d":3,"k":"g","t":4.3,"v":-2},{"d":3,"k":"g","t":4.6,"v":-1},{"d":3,"k":"g","t":4.9,"v":0},{"d":3,"k":"g","t":5.2,"v":2},{"d":3,"k":"g","t":5.5,"v":7},{"d":3,"k":"g","t":5.7,"v":10},{"d":3,"k":"g","t":5.9,"v":11},{"d":3,"k":"g","t":6.1,"v":10},{"d":3,"k":"g","t":6.4,"v":7},{"d":3,"k":"g","t":6.7,"v":4},{"d":3,"k":"g","t":7,"v":1.5},
{"d":3,"k":"h","t":0,"v":1},{"d":3,"k":"h","t":0.45,"v":1},{"d":3,"k":"h","t":0.7,"v":-6},{"d":3,"k":"h","t":0.9,"v":-12},{"d":3,"k":"h","t":1.1,"v":-16},{"d":3,"k":"h","t":1.4,"v":-17},{"d":3,"k":"h","t":1.9,"v":-17},{"d":3,"k":"h","t":2.4,"v":-16.5},{"d":3,"k":"h","t":2.65,"v":-14},{"d":3,"k":"h","t":2.85,"v":-10},{"d":3,"k":"h","t":3.05,"v":-7},{"d":3,"k":"h","t":3.3,"v":-4},{"d":3,"k":"h","t":3.55,"v":0},{"d":3,"k":"h","t":3.8,"v":4},{"d":3,"k":"h","t":4.1,"v":8},{"d":3,"k":"h","t":4.4,"v":10},{"d":3,"k":"h","t":4.8,"v":11},{"d":3,"k":"h","t":5.2,"v":11},{"d":3,"k":"h","t":5.5,"v":10},{"d":3,"k":"h","t":5.8,"v":8},{"d":3,"k":"h","t":6.1,"v":6},{"d":3,"k":"h","t":6.4,"v":5},{"d":3,"k":"h","t":6.7,"v":4},{"d":3,"k":"h","t":7,"v":4},
{"d":3,"k":"i","t":0,"v":2},{"d":3,"k":"i","t":0.45,"v":2},{"d":3,"k":"i","t":0.7,"v":-3},{"d":3,"k":"i","t":0.9,"v":-9},{"d":3,"k":"i","t":1.1,"v":-13},{"d":3,"k":"i","t":1.3,"v":-14},{"d":3,"k":"i","t":1.7,"v":-14},{"d":3,"k":"i","t":2.1,"v":-13.5},{"d":3,"k":"i","t":2.5,"v":-13},{"d":3,"k":"i","t":2.8,"v":-12},{"d":3,"k":"i","t":3.1,"v":-10},{"d":3,"k":"i","t":3.4,"v":-9},{"d":3,"k":"i","t":3.7,"v":-7},{"d":3,"k":"i","t":4.0,"v":-5},{"d":3,"k":"i","t":4.3,"v":-4},{"d":3,"k":"i","t":4.6,"v":-3},{"d":3,"k":"i","t":4.9,"v":-1},{"d":3,"k":"i","t":5.2,"v":1},{"d":3,"k":"i","t":5.5,"v":3},{"d":3,"k":"i","t":5.8,"v":6},{"d":3,"k":"i","t":6.0,"v":9},{"d":3,"k":"i","t":6.3,"v":12},{"d":3,"k":"i","t":6.6,"v":12},{"d":3,"k":"i","t":7,"v":12},
{"d":3,"k":"j","t":0,"v":1},{"d":3,"k":"j","t":0.45,"v":1},{"d":3,"k":"j","t":0.7,"v":-5},{"d":3,"k":"j","t":0.9,"v":-10},{"d":3,"k":"j","t":1.1,"v":-13},{"d":3,"k":"j","t":1.3,"v":-14},{"d":3,"k":"j","t":1.8,"v":-14},{"d":3,"k":"j","t":2.2,"v":-13.5},{"d":3,"k":"j","t":2.6,"v":-13},{"d":3,"k":"j","t":2.8,"v":-12},{"d":3,"k":"j","t":3.0,"v":-10},{"d":3,"k":"j","t":3.3,"v":-8},{"d":3,"k":"j","t":3.6,"v":-5},{"d":3,"k":"j","t":3.9,"v":-3},{"d":3,"k":"j","t":4.2,"v":-1},{"d":3,"k":"j","t":4.5,"v":0},{"d":3,"k":"j","t":4.8,"v":0.5},{"d":3,"k":"j","t":5.1,"v":1},{"d":3,"k":"j","t":5.3,"v":3},{"d":3,"k":"j","t":5.5,"v":6},{"d":3,"k":"j","t":5.7,"v":9},{"d":3,"k":"j","t":5.9,"v":11},{"d":3,"k":"j","t":6.2,"v":12},{"d":3,"k":"j","t":6.5,"v":11},{"d":3,"k":"j","t":6.8,"v":9},{"d":3,"k":"j","t":7,"v":7},
{"d":4,"k":"a","t":0,"v":-1},{"d":4,"k":"a","t":0.4,"v":-1},{"d":4,"k":"a","t":0.55,"v":-5},{"d":4,"k":"a","t":0.7,"v":-10},{"d":4,"k":"a","t":0.85,"v":-13},{"d":4,"k":"a","t":1.0,"v":-13},{"d":4,"k":"a","t":1.5,"v":-13.5},{"d":4,"k":"a","t":2.0,"v":-13.5},{"d":4,"k":"a","t":2.5,"v":-13},{"d":4,"k":"a","t":2.8,"v":-13},{"d":4,"k":"a","t":3.1,"v":-12.5},{"d":4,"k":"a","t":3.4,"v":-10},{"d":4,"k":"a","t":3.7,"v":-6},{"d":4,"k":"a","t":4.0,"v":-2},{"d":4,"k":"a","t":4.2,"v":1},{"d":4,"k":"a","t":4.4,"v":6},{"d":4,"k":"a","t":4.6,"v":11},{"d":4,"k":"a","t":4.8,"v":16},{"d":4,"k":"a","t":5.0,"v":19},{"d":4,"k":"a","t":5.2,"v":20},{"d":4,"k":"a","t":5.4,"v":19.5},{"d":4,"k":"a","t":5.6,"v":17},{"d":4,"k":"a","t":5.8,"v":14},{"d":4,"k":"a","t":6.0,"v":11},{"d":4,"k":"a","t":6.2,"v":8},{"d":4,"k":"a","t":6.4,"v":5},{"d":4,"k":"a","t":6.6,"v":2},{"d":4,"k":"a","t":6.8,"v":0},{"d":4,"k":"a","t":7,"v":-1},
{"d":4,"k":"b","t":0,"v":-1},{"d":4,"k":"b","t":0.4,"v":-1},{"d":4,"k":"b","t":0.55,"v":-6},{"d":4,"k":"b","t":0.7,"v":-12},{"d":4,"k":"b","t":0.85,"v":-14},{"d":4,"k":"b","t":1.0,"v":-14},{"d":4,"k":"b","t":1.5,"v":-14},{"d":4,"k":"b","t":2.0,"v":-14},{"d":4,"k":"b","t":2.5,"v":-14},{"d":4,"k":"b","t":2.7,"v":-13},{"d":4,"k":"b","t":2.9,"v":-10},{"d":4,"k":"b","t":3.1,"v":-7},{"d":4,"k":"b","t":3.3,"v":-4},{"d":4,"k":"b","t":3.6,"v":0},{"d":4,"k":"b","t":3.9,"v":3},{"d":4,"k":"b","t":4.2,"v":7},{"d":4,"k":"b","t":4.5,"v":10},{"d":4,"k":"b","t":4.7,"v":7},{"d":4,"k":"b","t":4.85,"v":4},{"d":4,"k":"b","t":5.0,"v":2},{"d":4,"k":"b","t":5.15,"v":4},{"d":4,"k":"b","t":5.35,"v":9},{"d":4,"k":"b","t":5.5,"v":10},{"d":4,"k":"b","t":5.8,"v":10.5},{"d":4,"k":"b","t":6.1,"v":10.5},{"d":4,"k":"b","t":6.4,"v":10.5},{"d":4,"k":"b","t":6.6,"v":9},{"d":4,"k":"b","t":6.75,"v":4},{"d":4,"k":"b","t":6.9,"v":0},{"d":4,"k":"b","t":7,"v":-1},
{"d":4,"k":"c","t":0,"v":2.5},{"d":4,"k":"c","t":0.4,"v":2.5},{"d":4,"k":"c","t":0.55,"v":-3},{"d":4,"k":"c","t":0.7,"v":-11},{"d":4,"k":"c","t":0.85,"v":-14},{"d":4,"k":"c","t":1.0,"v":-15},{"d":4,"k":"c","t":1.5,"v":-15},{"d":4,"k":"c","t":2.0,"v":-15},{"d":4,"k":"c","t":2.5,"v":-15},{"d":4,"k":"c","t":2.7,"v":-14},{"d":4,"k":"c","t":2.9,"v":-9},{"d":4,"k":"c","t":3.1,"v":-4},{"d":4,"k":"c","t":3.3,"v":1},{"d":4,"k":"c","t":3.5,"v":5},{"d":4,"k":"c","t":3.7,"v":10},{"d":4,"k":"c","t":3.9,"v":16},{"d":4,"k":"c","t":4.1,"v":22},{"d":4,"k":"c","t":4.3,"v":25},{"d":4,"k":"c","t":4.6,"v":25},{"d":4,"k":"c","t":4.8,"v":22},{"d":4,"k":"c","t":5.0,"v":15},{"d":4,"k":"c","t":5.2,"v":8},{"d":4,"k":"c","t":5.4,"v":1},{"d":4,"k":"c","t":5.6,"v":-4},{"d":4,"k":"c","t":5.8,"v":-6},{"d":4,"k":"c","t":6.2,"v":-6},{"d":4,"k":"c","t":6.6,"v":-6},{"d":4,"k":"c","t":6.8,"v":-6},{"d":4,"k":"c","t":7,"v":-3},
{"d":4,"k":"d","t":0,"v":0},{"d":4,"k":"d","t":0.4,"v":0},{"d":4,"k":"d","t":0.55,"v":-4},{"d":4,"k":"d","t":0.7,"v":-10},{"d":4,"k":"d","t":0.85,"v":-14},{"d":4,"k":"d","t":1.0,"v":-15},{"d":4,"k":"d","t":1.5,"v":-15},{"d":4,"k":"d","t":2.0,"v":-15},{"d":4,"k":"d","t":2.5,"v":-15},{"d":4,"k":"d","t":2.7,"v":-14},{"d":4,"k":"d","t":2.9,"v":-11},{"d":4,"k":"d","t":3.1,"v":-8},{"d":4,"k":"d","t":3.3,"v":-5},{"d":4,"k":"d","t":3.5,"v":-2},{"d":4,"k":"d","t":3.8,"v":2},{"d":4,"k":"d","t":4.1,"v":7},{"d":4,"k":"d","t":4.4,"v":13},{"d":4,"k":"d","t":4.7,"v":17},{"d":4,"k":"d","t":4.95,"v":19},{"d":4,"k":"d","t":5.2,"v":16},{"d":4,"k":"d","t":5.45,"v":10},{"d":4,"k":"d","t":5.7,"v":5},{"d":4,"k":"d","t":6.0,"v":4},{"d":4,"k":"d","t":6.3,"v":4},{"d":4,"k":"d","t":6.5,"v":3},{"d":4,"k":"d","t":6.7,"v":1},{"d":4,"k":"d","t":7,"v":0},
{"d":4,"k":"e","t":0,"v":-3},{"d":4,"k":"e","t":0.4,"v":-3},{"d":4,"k":"e","t":0.55,"v":-7},{"d":4,"k":"e","t":0.7,"v":-12},{"d":4,"k":"e","t":0.85,"v":-15},{"d":4,"k":"e","t":1.0,"v":-16.5},{"d":4,"k":"e","t":1.5,"v":-16.5},{"d":4,"k":"e","t":2.0,"v":-16},{"d":4,"k":"e","t":2.5,"v":-16},{"d":4,"k":"e","t":2.7,"v":-14},{"d":4,"k":"e","t":2.9,"v":-8},{"d":4,"k":"e","t":3.1,"v":-3},{"d":4,"k":"e","t":3.3,"v":3},{"d":4,"k":"e","t":3.5,"v":8},{"d":4,"k":"e","t":3.7,"v":12},{"d":4,"k":"e","t":3.9,"v":16},{"d":4,"k":"e","t":4.1,"v":19},{"d":4,"k":"e","t":4.3,"v":22},{"d":4,"k":"e","t":4.5,"v":22.5},{"d":4,"k":"e","t":4.7,"v":21},{"d":4,"k":"e","t":4.9,"v":17},{"d":4,"k":"e","t":5.1,"v":12},{"d":4,"k":"e","t":5.3,"v":8},{"d":4,"k":"e","t":5.5,"v":5},{"d":4,"k":"e","t":5.8,"v":3},{"d":4,"k":"e","t":6.1,"v":1},{"d":4,"k":"e","t":6.4,"v":-3},{"d":4,"k":"e","t":6.7,"v":-4},{"d":4,"k":"e","t":7,"v":-4},
{"d":4,"k":"f","t":0,"v":-1},{"d":4,"k":"f","t":0.4,"v":-1},{"d":4,"k":"f","t":0.6,"v":-6},{"d":4,"k":"f","t":0.75,"v":-12},{"d":4,"k":"f","t":0.9,"v":-12.5},{"d":4,"k":"f","t":1.4,"v":-12},{"d":4,"k":"f","t":2.0,"v":-12},{"d":4,"k":"f","t":2.5,"v":-12},{"d":4,"k":"f","t":2.7,"v":-11},{"d":4,"k":"f","t":2.9,"v":-7},{"d":4,"k":"f","t":3.1,"v":-3},{"d":4,"k":"f","t":3.3,"v":0},{"d":4,"k":"f","t":3.6,"v":2},{"d":4,"k":"f","t":3.9,"v":4},{"d":4,"k":"f","t":4.2,"v":5},{"d":4,"k":"f","t":4.5,"v":6},{"d":4,"k":"f","t":5.0,"v":6},{"d":4,"k":"f","t":5.5,"v":6},{"d":4,"k":"f","t":5.7,"v":3},{"d":4,"k":"f","t":5.9,"v":-2},{"d":4,"k":"f","t":6.1,"v":-3},{"d":4,"k":"f","t":6.3,"v":-1},{"d":4,"k":"f","t":6.6,"v":0},{"d":4,"k":"f","t":7,"v":0},
{"d":4,"k":"g","t":0,"v":0},{"d":4,"k":"g","t":0.4,"v":0},{"d":4,"k":"g","t":0.55,"v":-5},{"d":4,"k":"g","t":0.7,"v":-11},{"d":4,"k":"g","t":0.85,"v":-14},{"d":4,"k":"g","t":1.0,"v":-14.5},{"d":4,"k":"g","t":1.5,"v":-14.5},{"d":4,"k":"g","t":2.0,"v":-14.5},{"d":4,"k":"g","t":2.5,"v":-14.5},{"d":4,"k":"g","t":2.7,"v":-13},{"d":4,"k":"g","t":2.9,"v":-9},{"d":4,"k":"g","t":3.1,"v":-6},{"d":4,"k":"g","t":3.4,"v":-1},{"d":4,"k":"g","t":3.7,"v":4},{"d":4,"k":"g","t":4.0,"v":9},{"d":4,"k":"g","t":4.3,"v":14},{"d":4,"k":"g","t":4.5,"v":15},{"d":4,"k":"g","t":4.8,"v":18},{"d":4,"k":"g","t":5.0,"v":19},{"d":4,"k":"g","t":5.2,"v":18},{"d":4,"k":"g","t":5.5,"v":14},{"d":4,"k":"g","t":5.8,"v":10},{"d":4,"k":"g","t":6.1,"v":5},{"d":4,"k":"g","t":6.4,"v":3},{"d":4,"k":"g","t":6.7,"v":0},{"d":4,"k":"g","t":7,"v":0},
{"d":4,"k":"h","t":0,"v":-2},{"d":4,"k":"h","t":0.4,"v":-2},{"d":4,"k":"h","t":0.6,"v":-8},{"d":4,"k":"h","t":0.75,"v":-13},{"d":4,"k":"h","t":0.9,"v":-15},{"d":4,"k":"h","t":1.2,"v":-15.5},{"d":4,"k":"h","t":1.7,"v":-15.5},{"d":4,"k":"h","t":2.2,"v":-15},{"d":4,"k":"h","t":2.6,"v":-14.5},{"d":4,"k":"h","t":2.8,"v":-11},{"d":4,"k":"h","t":3.0,"v":-4},{"d":4,"k":"h","t":3.2,"v":1},{"d":4,"k":"h","t":3.38,"v":4},{"d":4,"k":"h","t":3.6,"v":5},{"d":4,"k":"h","t":3.8,"v":7},{"d":4,"k":"h","t":4.0,"v":10},{"d":4,"k":"h","t":4.2,"v":13},{"d":4,"k":"h","t":4.4,"v":14},{"d":4,"k":"h","t":4.7,"v":14},{"d":4,"k":"h","t":5.0,"v":14},{"d":4,"k":"h","t":5.3,"v":14},{"d":4,"k":"h","t":5.6,"v":13},{"d":4,"k":"h","t":5.9,"v":5},{"d":4,"k":"h","t":6.1,"v":0},{"d":4,"k":"h","t":6.3,"v":-1},{"d":4,"k":"h","t":6.6,"v":0},{"d":4,"k":"h","t":7,"v":0},
{"d":4,"k":"i","t":0,"v":-3},{"d":4,"k":"i","t":0.4,"v":-3},{"d":4,"k":"i","t":0.6,"v":-8},{"d":4,"k":"i","t":0.75,"v":-14},{"d":4,"k":"i","t":0.9,"v":-16},{"d":4,"k":"i","t":1.3,"v":-16.5},{"d":4,"k":"i","t":1.8,"v":-16.5},{"d":4,"k":"i","t":2.3,"v":-16},{"d":4,"k":"i","t":2.7,"v":-15},{"d":4,"k":"i","t":2.9,"v":-11},{"d":4,"k":"i","t":3.1,"v":-6},{"d":4,"k":"i","t":3.3,"v":-2},{"d":4,"k":"i","t":3.6,"v":1},{"d":4,"k":"i","t":3.9,"v":6},{"d":4,"k":"i","t":4.2,"v":11},{"d":4,"k":"i","t":4.5,"v":14},{"d":4,"k":"i","t":4.8,"v":16},{"d":4,"k":"i","t":5.0,"v":17},{"d":4,"k":"i","t":5.2,"v":15},{"d":4,"k":"i","t":5.4,"v":12},{"d":4,"k":"i","t":5.6,"v":8},{"d":4,"k":"i","t":5.8,"v":4},{"d":4,"k":"i","t":6.0,"v":1},{"d":4,"k":"i","t":6.2,"v":-1},{"d":4,"k":"i","t":6.4,"v":-3},{"d":4,"k":"i","t":6.6,"v":-3},{"d":4,"k":"i","t":6.8,"v":-2},{"d":4,"k":"i","t":7,"v":-1},
{"d":4,"k":"j","t":0,"v":-2},{"d":4,"k":"j","t":0.4,"v":-2},{"d":4,"k":"j","t":0.55,"v":-7},{"d":4,"k":"j","t":0.7,"v":-13},{"d":4,"k":"j","t":0.85,"v":-16},{"d":4,"k":"j","t":1.0,"v":-17},{"d":4,"k":"j","t":1.5,"v":-17},{"d":4,"k":"j","t":2.0,"v":-16.5},{"d":4,"k":"j","t":2.5,"v":-16},{"d":4,"k":"j","t":2.75,"v":-15},{"d":4,"k":"j","t":2.95,"v":-10},{"d":4,"k":"j","t":3.15,"v":-6},{"d":4,"k":"j","t":3.4,"v":-1},{"d":4,"k":"j","t":3.7,"v":3},{"d":4,"k":"j","t":4.0,"v":8},{"d":4,"k":"j","t":4.3,"v":13},{"d":4,"k":"j","t":4.6,"v":14},{"d":4,"k":"j","t":4.9,"v":15},{"d":4,"k":"j","t":5.1,"v":14},{"d":4,"k":"j","t":5.3,"v":11},{"d":4,"k":"j","t":5.6,"v":6},{"d":4,"k":"j","t":5.9,"v":4},{"d":4,"k":"j","t":6.2,"v":3},{"d":4,"k":"j","t":6.5,"v":1},{"d":4,"k":"j","t":6.8,"v":0},{"d":4,"k":"j","t":7,"v":0}
]
},
"vconcat": [
{
"width": 513, "height": 334,
"layer": [
 {"data": {"values": [{"level": 0}]}, "mark": {"type": "rule", "color": "#444", "strokeWidth": 1, "strokeDash": [1, 2]}, "encoding": {"x": {"datum": 0, "axis": null}, "x2": {"datum": 7}, "y": {"field": "level", "type": "quantitative", "title": null}}},
 {"data": {"name": "trials"}, "transform": [{"filter": "datum.d == 1"}],
  "mark": {"type": "line", "interpolate": "monotone", "color": "black", "strokeWidth": 1.25},
  "encoding": {
   "x": {"field": "t", "type": "quantitative", "scale": {"domain": [0, 7], "nice": false, "zero": false}, "axis": null},
   "y": {"field": "v", "type": "quantitative", "title": null, "scale": {"domain": [-51.1, 62.7], "nice": false, "zero": false}, "axis": {"values": [-40, -20, 0, 20, 40, 60], "labelPadding": 11, "labelExpr": "replace(datum.label, '\u2212', '-')"}},
   "strokeDash": {"field": "k", "type": "nominal", "legend": null, "scale": {"domain": ["a","b","c","d","e","f","g","h","i","j"], "range": [[1,0],[1,0],[4,2],[1,0],[4,2],[1,2],[1,0],[4,2],[1,2],[6,2,1,2]]}}
  }},
 {"data": {"name": "cues"}, "transform": [{"filter": "datum.d == 1"}], "mark": {"type": "rule", "color": "black", "strokeWidth": 4.5}, "encoding": {"x": {"field": "t0", "type": "quantitative", "axis": null}, "x2": {"field": "t1"}, "y": {"field": "v", "type": "quantitative", "title": null}}},
 {"data": {"values": [{"label": "Driver 1"}]}, "mark": {"type": "text", "align": "right", "baseline": "middle", "font": "DejaVu Serif", "fontWeight": "bold", "fontSize": 19, "dx": 4, "color": "black"}, "encoding": {"x": {"datum": 7, "axis": null}, "y": {"datum": 23, "title": null}, "text": {"field": "label", "type": "nominal"}}}
]
},
{
"width": 513, "height": 270,
"layer": [
 {"data": {"values": [{"level": 0}]}, "mark": {"type": "rule", "color": "#444", "strokeWidth": 1, "strokeDash": [1, 2]}, "encoding": {"x": {"datum": 0, "axis": null}, "x2": {"datum": 7}, "y": {"field": "level", "type": "quantitative", "title": "Steering Angle (deg)"}}},
 {"data": {"name": "trials"}, "transform": [{"filter": "datum.d == 2"}],
  "mark": {"type": "line", "interpolate": "monotone", "color": "black", "strokeWidth": 1.25},
  "encoding": {
   "x": {"field": "t", "type": "quantitative", "scale": {"domain": [0, 7], "nice": false, "zero": false}, "axis": null},
   "y": {"field": "v", "type": "quantitative", "title": "Steering Angle (deg)", "scale": {"domain": [-45.2, 47.6], "nice": false, "zero": false}, "axis": {"values": [-40, -20, 0, 20, 40], "labelPadding": 11, "labelExpr": "replace(datum.label, '\u2212', '-')", "titleFont": "DejaVu Serif", "titleFontSize": 27, "titleFontWeight": "normal", "titleX": -74, "titleY": 105}},
   "strokeDash": {"field": "k", "type": "nominal", "legend": null, "scale": {"domain": ["a","b","c","d","e","f","g","h","i","j"], "range": [[1,0],[1,0],[4,2],[1,0],[4,2],[1,2],[1,0],[4,2],[1,2],[6,2,1,2]]}}
  }},
 {"data": {"name": "cues"}, "transform": [{"filter": "datum.d == 2"}], "mark": {"type": "rule", "color": "black", "strokeWidth": 4.5}, "encoding": {"x": {"field": "t0", "type": "quantitative", "axis": null}, "x2": {"field": "t1"}, "y": {"field": "v", "type": "quantitative", "title": "Steering Angle (deg)"}}},
 {"data": {"values": [{"label": "Driver 2"}]}, "mark": {"type": "text", "align": "right", "baseline": "middle", "font": "DejaVu Serif", "fontWeight": "bold", "fontSize": 19, "dx": 4, "color": "black"}, "encoding": {"x": {"datum": 7, "axis": null}, "y": {"datum": 20.2, "title": "Steering Angle (deg)"}, "text": {"field": "label", "type": "nominal"}}}
]
},
{
"width": 513, "height": 140,
"layer": [
 {"data": {"values": [{"level": 0}]}, "mark": {"type": "rule", "color": "#444", "strokeWidth": 1, "strokeDash": [1, 2]}, "encoding": {"x": {"datum": 0, "axis": null}, "x2": {"datum": 7}, "y": {"field": "level", "type": "quantitative", "title": null}}},
 {"data": {"name": "trials"}, "transform": [{"filter": "datum.d == 3"}],
  "mark": {"type": "line", "interpolate": "monotone", "color": "black", "strokeWidth": 1.25},
  "encoding": {
   "x": {"field": "t", "type": "quantitative", "scale": {"domain": [0, 7], "nice": false, "zero": false}, "axis": null},
   "y": {"field": "v", "type": "quantitative", "title": null, "scale": {"domain": [-24.6, 25], "nice": false, "zero": false}, "axis": {"values": [-20, 0, 20], "labelPadding": 11, "labelExpr": "replace(datum.label, '\u2212', '-')"}},
   "strokeDash": {"field": "k", "type": "nominal", "legend": null, "scale": {"domain": ["a","b","c","d","e","f","g","h","i","j"], "range": [[1,0],[1,0],[4,2],[1,0],[4,2],[1,2],[1,0],[4,2],[1,2],[6,2,1,2]]}}
  }},
 {"data": {"name": "cues"}, "transform": [{"filter": "datum.d == 3"}], "mark": {"type": "rule", "color": "black", "strokeWidth": 4.5}, "encoding": {"x": {"field": "t0", "type": "quantitative", "axis": null}, "x2": {"field": "t1"}, "y": {"field": "v", "type": "quantitative", "title": null}}},
 {"data": {"values": [{"label": "Driver 3"}]}, "mark": {"type": "text", "align": "right", "baseline": "middle", "font": "DejaVu Serif", "fontWeight": "bold", "fontSize": 19, "dx": 4, "color": "black"}, "encoding": {"x": {"datum": 7, "axis": null}, "y": {"datum": 26.3, "title": null}, "text": {"field": "label", "type": "nominal"}}}
]
},
{
"width": 513, "height": 164,
"layer": [
 {"data": {"values": [{"level": 0}]}, "mark": {"type": "rule", "color": "#444", "strokeWidth": 1, "strokeDash": [1, 2]}, "encoding": {"x": {"datum": 0, "title": "Time (s)"}, "x2": {"datum": 7}, "y": {"field": "level", "type": "quantitative", "title": null}}},
 {"data": {"name": "trials"}, "transform": [{"filter": "datum.d == 4"}],
  "mark": {"type": "line", "interpolate": "monotone", "color": "black", "strokeWidth": 1.25},
  "encoding": {
   "x": {"field": "t", "type": "quantitative", "title": "Time (s)", "scale": {"domain": [0, 7], "nice": false, "zero": false}, "axis": {"values": [0,1,2,3,4,5,6,7], "format": "d", "labelPadding": 16, "titleFont": "DejaVu Serif", "titleFontSize": 27, "titleFontWeight": "normal", "titlePadding": 14}},
   "y": {"field": "v", "type": "quantitative", "title": null, "scale": {"domain": [-28.9, 27.2], "nice": false, "zero": false}, "axis": {"values": [-20, 0, 20], "labelPadding": 11, "labelExpr": "replace(datum.label, '\u2212', '-')"}},
   "strokeDash": {"field": "k", "type": "nominal", "legend": null, "scale": {"domain": ["a","b","c","d","e","f","g","h","i","j"], "range": [[1,0],[1,0],[4,2],[1,0],[4,2],[1,2],[1,0],[4,2],[1,2],[6,2,1,2]]}}
  }},
 {"data": {"name": "cues"}, "transform": [{"filter": "datum.d == 4"}], "mark": {"type": "rule", "color": "black", "strokeWidth": 4.5}, "encoding": {"x": {"field": "t0", "type": "quantitative", "title": "Time (s)"}, "x2": {"field": "t1"}, "y": {"field": "v", "type": "quantitative", "title": null}}},
 {"data": {"values": [{"label": "Driver 4"}]}, "mark": {"type": "text", "align": "right", "baseline": "middle", "font": "DejaVu Serif", "fontWeight": "bold", "fontSize": 19, "dx": 4, "color": "black"}, "encoding": {"x": {"datum": 7, "title": "Time (s)"}, "y": {"datum": 23.4, "title": null}, "text": {"field": "label", "type": "nominal"}}}
]
}
]
}
